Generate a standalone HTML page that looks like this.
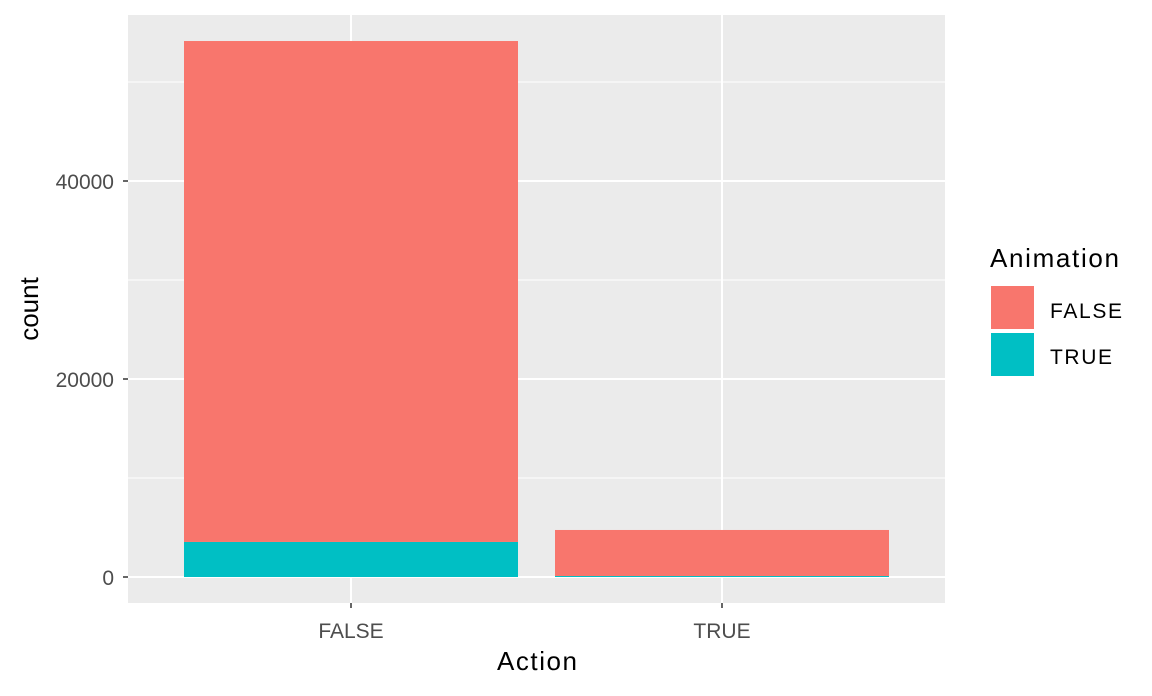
<!DOCTYPE html>
<html><head><meta charset="utf-8"><style>
body{margin:0;background:#fff;font-family:"Liberation Sans",Arial,sans-serif}
</style></head><body>
<svg id="chart" width="1152" height="691" xmlns="http://www.w3.org/2000/svg">
<rect id="panel" x="128" y="15" width="817" height="588" fill="#EBEBEB"/>
<g id="grid"></g><g id="bars"></g><g id="axes"></g>
<text x="537" y="670" font-size="26" text-anchor="middle" fill="#000" textLength="80">Action</text>
<text transform="translate(38,309) rotate(-90)" font-size="26" text-anchor="middle" fill="#000">count</text>
<g>
<text x="990" y="267" font-size="26" fill="#000" textLength="129">Animation</text>
<rect x="991" y="286" width="43" height="43" fill="#F8766D"/>
<text x="1050" y="318" font-size="21" fill="#000" textLength="72">FALSE</text>
<rect x="991" y="333" width="43" height="43" fill="#00BFC4"/>
<text x="1050" y="364" font-size="21" fill="#000" textLength="62">TRUE</text>
</g>
</svg>
<script>
const categories=["FALSE","TRUE"];
const seriesFalse=[50600,4650];
const seriesTrue=[3540,100];
const yTicks=[0,20000,40000];
const yMinor=[10000,30000,50000];
const ns="http://www.w3.org/2000/svg";
const y=v=>577-v*(198/20000);
const x=i=>351+i*371;
const bw=334;
function mk(t,a,p){const e=document.createElementNS(ns,t);for(const k in a)e.setAttribute(k,a[k]);p.appendChild(e);return e;}
const g=document.getElementById('grid'),b=document.getElementById('bars'),ax=document.getElementById('axes');
yMinor.forEach(v=>{const l=mk('line',{x1:128,x2:945,y1:y(v),y2:y(v),stroke:'#fff','stroke-width':1},g);

});
yTicks.forEach(v=>{const l=mk('line',{x1:128,x2:945,y1:y(v),y2:y(v),stroke:'#fff','stroke-width':2},g);


const tk=mk('line',{x1:123,x2:128,y1:y(v),y2:y(v),stroke:'#333','stroke-width':1.5},ax);


const t=mk('text',{x:114,y:y(v)+8,'font-size':21,'text-anchor':'end',fill:'#4D4D4D'},ax);t.textContent=v;

});
categories.forEach((c,i)=>{const l=mk('line',{x1:x(i),x2:x(i),y1:15,y2:603,stroke:'#fff','stroke-width':2},g);


const tk=mk('line',{x1:x(i),x2:x(i),y1:603,y2:608,stroke:'#333','stroke-width':1.5},ax);


const t=mk('text',{x:x(i),y:638,'font-size':21,'text-anchor':'middle',fill:'#4D4D4D'},ax);t.textContent=c;


const t0=seriesTrue[i],f=seriesFalse[i];
const r1=mk('rect',{x:x(i)-bw/2,y:y(t0),width:bw,height:y(0)-y(t0),fill:'#00BFC4'},b);


const r2=mk('rect',{x:x(i)-bw/2,y:y(t0+f),width:bw,height:y(t0)-y(t0+f),fill:'#F8766D'},b);

});
</script>
</body></html>
